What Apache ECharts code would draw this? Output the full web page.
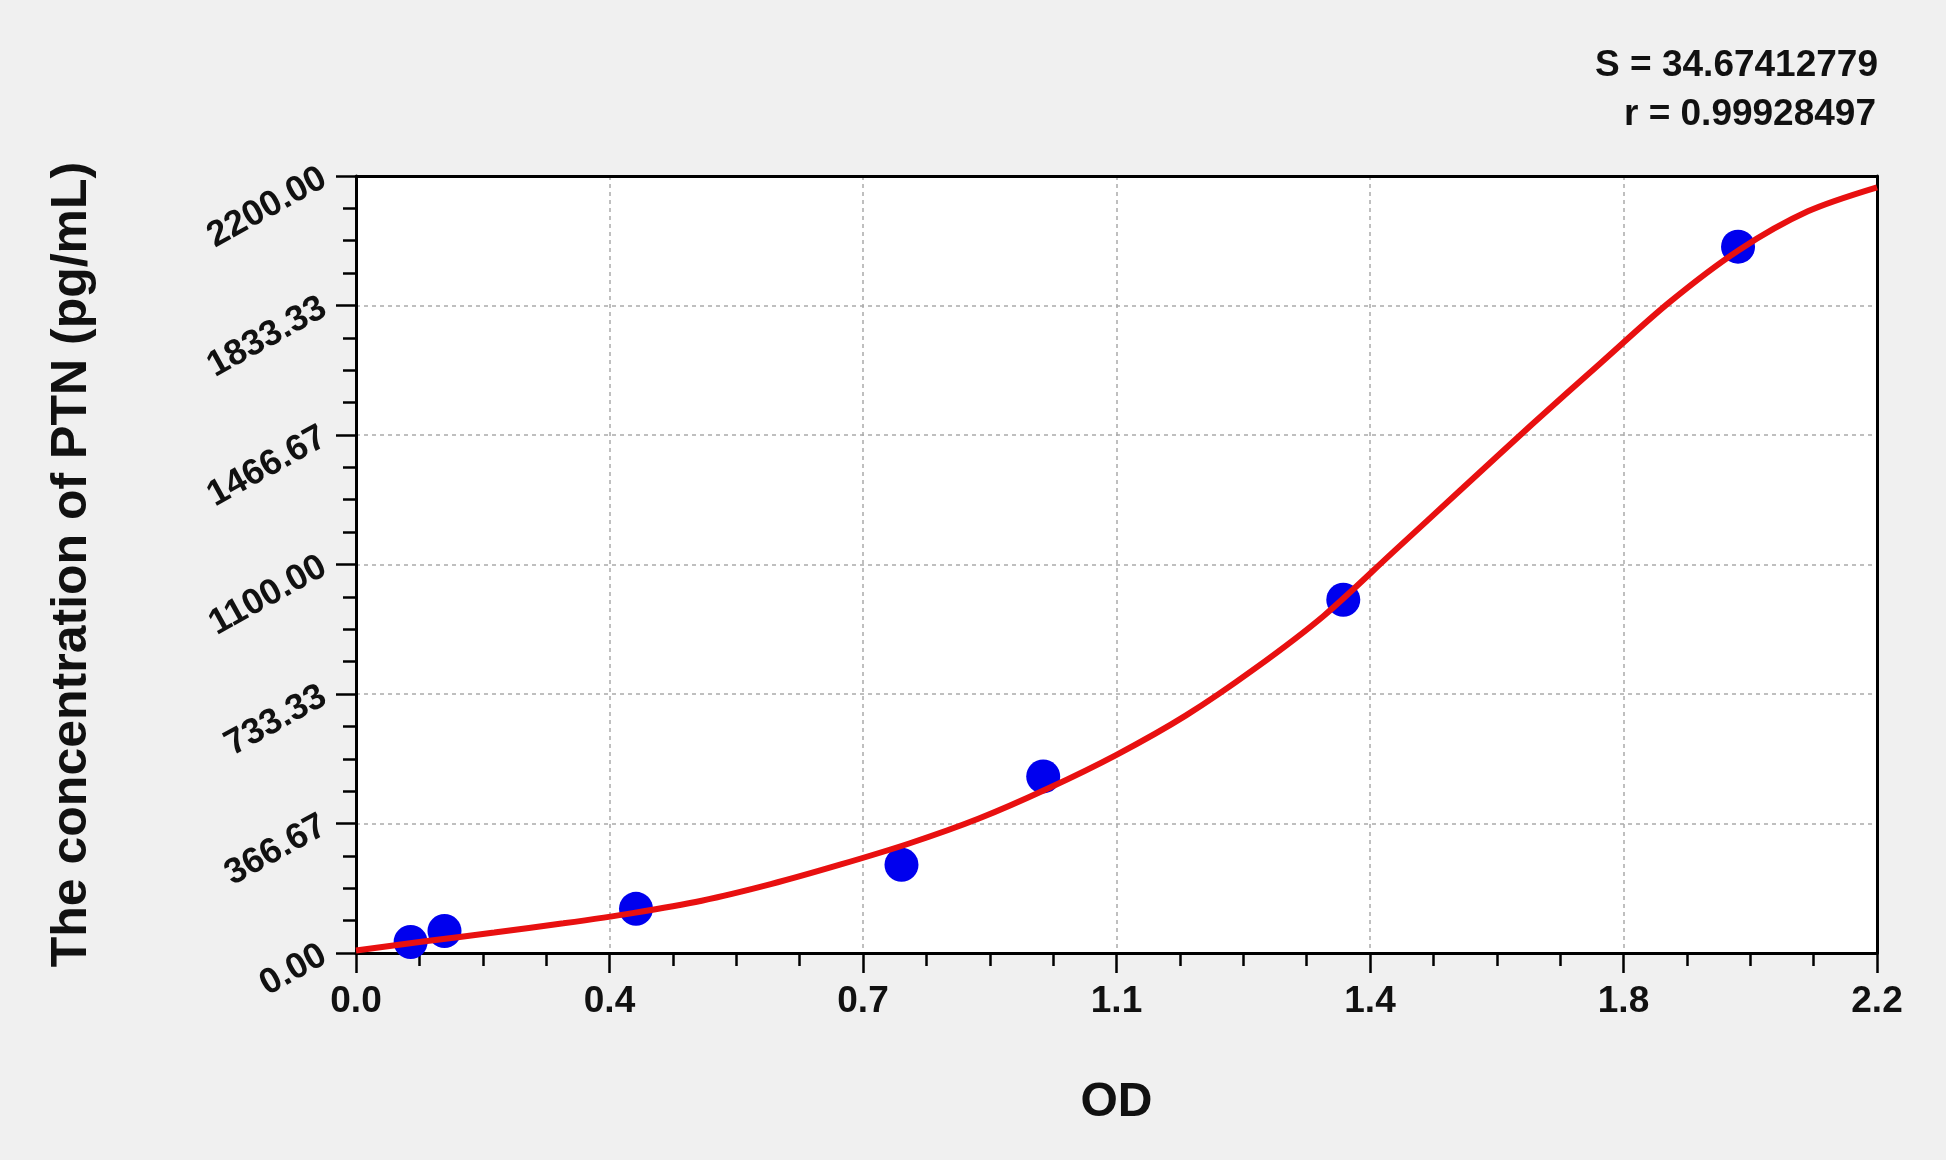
<!DOCTYPE html>
<html>
<head>
<meta charset="utf-8">
<title>PTN standard curve</title>
<script src="https://cdn.jsdelivr.net/npm/echarts@6/dist/echarts.min.js"></script>
<style>
  html, body { margin: 0; padding: 0; background: #f0f0f0; }
  #chart { width: 1946px; height: 1160px; }
</style>
</head>
<body>
<div id="chart"></div>
<script>
// tick labels as printed on the original
var xTickLabels = ['0.0', '0.4', '0.7', '1.1', '1.4', '1.8', '2.2'];
var yTickLabels = ['0.00', '366.67', '733.33', '1100.00', '1466.67', '1833.33', '2200.00'];

// standards (blue dots)
var stdOD = [0.079, 0.128, 0.405, 0.789, 0.994, 1.428, 1.999];
var stdConc = [31.25, 62.5, 125, 250, 500, 1000, 2000];

// fitted curve
var curveOD = [0.0, 0.1, 0.2, 0.3, 0.4, 0.5, 0.6, 0.7, 0.8, 0.9, 1.0, 1.1,
               1.2, 1.3, 1.4, 1.5, 1.6, 1.7, 1.8, 1.9, 2.0, 2.1, 2.2];
var curveConc = [7, 33, 58, 84, 113, 148, 195, 250, 310, 380, 465, 561,
                 672, 805, 955, 1135, 1315, 1495, 1670, 1843, 1990, 2100, 2168];

var statS = 'S = 34.67412779';
var statR = 'r = 0.99928497';

var xMax = 2.2, yMax = 2200;
var xStep = xMax / 6, yStep = yMax / 6;

var fontFam = '"Liberation Sans", Arial, sans-serif';

function zip(a, b) {
    var out = [];
    a.forEach(function (v, i) { out.push([v, b[i]]); });
    return out;
}

// plain black line for the top / right frame of the plot
function frameAxis(pos) {
    return {
        type: 'value', position: pos, min: 0,
        max: (pos === 'top') ? xMax : yMax,
        axisLine: { show: true, onZero: false, lineStyle: { color: '#000', width: 3 } },
        axisTick: { show: false }, axisLabel: { show: false }, splitLine: { show: false }
    };
}

var myChart = echarts.init(document.getElementById('chart'));

var option = {
    backgroundColor: '#f0f0f0',
    animation: false,
    textStyle: { fontFamily: fontFam },
    graphic: [
        {
            type: 'text', right: 68, top: 47,
            style: { text: statS, font: 'bold 37px ' + fontFam, fill: '#111', textAlign: 'right' }
        },
        {
            type: 'text', right: 70, top: 96,
            style: { text: statR, font: 'bold 37px ' + fontFam, fill: '#111', textAlign: 'right' }
        }
    ],
    grid: {
        left: 356,
        right: 69,
        top: 176,
        bottom: 207,
        show: true,
        backgroundColor: '#fff',
        borderWidth: 0
    },
    xAxis: [{
        type: 'value',
        position: 'bottom',
        min: 0,
        max: xMax,
        interval: xStep,
        name: 'OD',
        nameLocation: 'middle',
        nameGap: 126,
        nameTextStyle: { fontSize: 48, fontWeight: 'bold', color: '#111', fontFamily: fontFam },
        axisLine: { show: true, onZero: false, lineStyle: { color: '#000', width: 3 } },
        axisTick: { show: true, length: 20, lineStyle: { color: '#000', width: 2.5 } },
        minorTick: { show: true, splitNumber: 4, length: 13, lineStyle: { color: '#000', width: 2.5 } },
        axisLabel: {
            margin: 30,
            fontSize: 37,
            fontWeight: 'bold',
            color: '#111',
            formatter: function (v) { return xTickLabels[Math.round(v / xStep)]; }
        },
        splitLine: { show: true, lineStyle: { color: '#aaa', width: 1.5, type: [4, 4] } }
    }, frameAxis('top')],
    yAxis: [{
        type: 'value',
        position: 'left',
        min: 0,
        max: yMax,
        interval: yStep,
        name: 'The concentration of PTN (pg/mL)',
        nameLocation: 'middle',
        nameRotate: 90,
        nameGap: 259,
        nameTextStyle: { fontSize: 50, fontWeight: 'bold', color: '#111', fontFamily: fontFam },
        axisLine: { show: true, onZero: false, lineStyle: { color: '#000', width: 3 } },
        axisTick: { show: true, length: 20, lineStyle: { color: '#000', width: 2.5 } },
        minorTick: { show: true, splitNumber: 4, length: 13, lineStyle: { color: '#000', width: 2.5 } },
        axisLabel: {
            margin: 32,
            rotate: 29,
            fontSize: 36,
            fontWeight: 'bold',
            color: '#111',
            formatter: function (v) { return yTickLabels[Math.round(v / yStep)]; }
        },
        splitLine: { show: true, lineStyle: { color: '#aaa', width: 1.5, type: [4, 4] } }
    }, frameAxis('right')],
    series: [
        {
            name: 'standards',
            type: 'scatter',
            data: zip(stdOD, stdConc),
            symbol: 'circle',
            symbolSize: 34,
            itemStyle: { color: '#0000ee', opacity: 1 },
            z: 2
        },
        {
            name: 'fit',
            type: 'line',
            data: zip(curveOD, curveConc),
            smooth: 0.3,
            showSymbol: false,
            symbol: 'none',
            lineStyle: { color: '#e81010', width: 6 },
            z: 3
        }
    ]
};

myChart.setOption(option, true);
</script>
</body>
</html>
